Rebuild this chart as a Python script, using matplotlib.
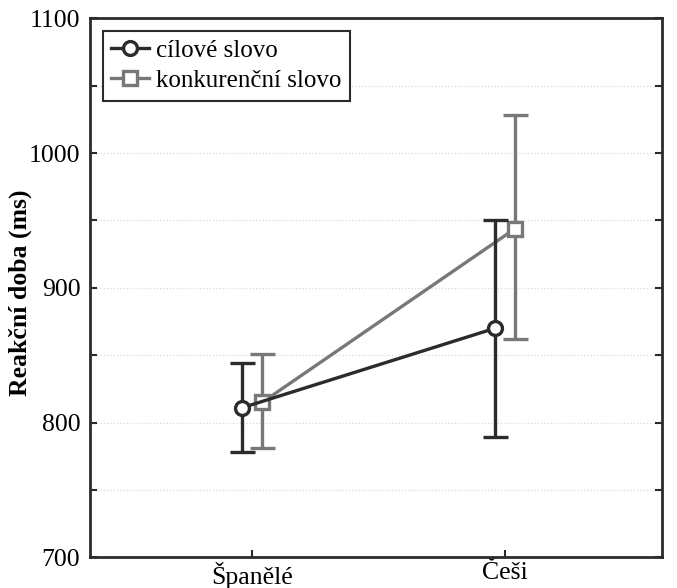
import matplotlib.pyplot as plt
from matplotlib.lines import Line2D
import numpy as np

plt.rcParams['font.family'] = ['Liberation Serif', 'DejaVu Serif']

groups = ['Španělé', 'Češi']
target_mean = [811, 870]
target_low = [778, 789]
target_high = [844, 950]
comp_mean = [815, 944]
comp_low = [781, 862]
comp_high = [851, 1028]

dark = '#2b2b2b'
gray = '#787878'

fig, ax = plt.subplots(figsize=(6.77, 5.88), dpi=100)
fig.subplots_adjust(left=0.133, right=0.978, top=0.969, bottom=0.052)

x = np.arange(len(groups))
off = 0.04

def draw(xs, m, lo, hi, col, mk, z):
    m = np.array(m); lo = np.array(lo); hi = np.array(hi)
    ax.errorbar(xs, m, yerr=[m - lo, hi - m], color=col, lw=2.4, marker=mk,
                ms=10, mfc='white', mec=col, mew=2.4, capsize=9, capthick=2.4,
                elinewidth=2.4, zorder=z)

draw(x + off, comp_mean, comp_low, comp_high, gray, 's', 3)
draw(x - off, target_mean, target_low, target_high, dark, 'o', 4)

ax.set_xlim(-0.64, 1.62)
ax.set_ylim(700, 1100)
ax.set_xticks(x)
ax.set_xticklabels(groups)
ax.set_yticks([700, 800, 900, 1000, 1100])
ax.set_yticks(np.arange(750, 1100, 100), minor=True)
ax.grid(True, which='both', axis='y', color='#d8d8d8', ls=':', lw=0.9)
ax.set_axisbelow(True)
ax.tick_params(axis='both', which='both', direction='in', labelsize=18.5,
               color=dark, width=1.5, length=5, right=True)
ax.tick_params(axis='x', pad=3)
ax.tick_params(axis='y', pad=7)
for s in ax.spines.values():
    s.set_color(dark)
    s.set_linewidth(2)

ax.set_ylabel('Reakční doba (ms)', fontsize=18.5, fontweight='bold')
ax.yaxis.set_label_coords(-0.101, 0.49)

handles = [
    Line2D([], [], color=dark, lw=2.4, marker='o', ms=10, mfc='white', mew=2.4),
    Line2D([], [], color=gray, lw=2.4, marker='s', ms=10, mfc='white', mew=2.4),
]
leg = ax.legend(handles, ['cílové slovo', 'konkurenční slovo'], loc='upper left',
                fontsize=18, frameon=True, fancybox=False, edgecolor=dark,
                handlelength=1.5, borderaxespad=0.5, handletextpad=0.3,
                borderpad=0.35, labelspacing=0.3, framealpha=1)
leg.get_frame().set_linewidth(1.5)

fig.savefig('out.png', dpi=100)
